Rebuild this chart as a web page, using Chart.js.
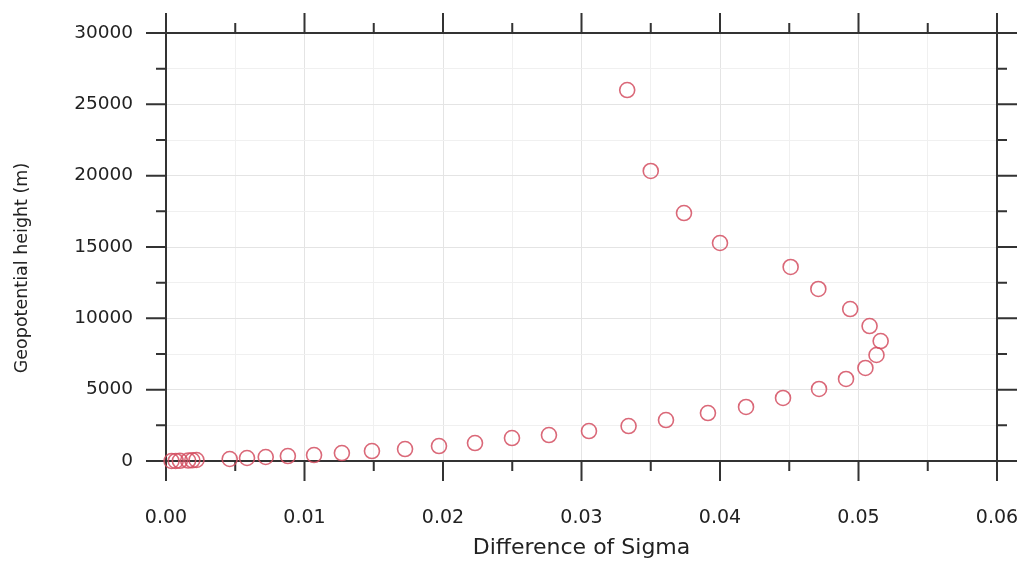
<!DOCTYPE html>
<html>
<head>
<meta charset="utf-8">
<script src="https://cdn.jsdelivr.net/npm/chart.js@4.4.1/dist/chart.umd.min.js"></script>
<style>
  html, body { margin: 0; padding: 0; background: #fff; }
  #wrap { width: 1021px; height: 563px; }
</style>
</head>
<body>
<div id="wrap"><canvas id="sigma"></canvas></div>
<script>
// sigma difference per level, top of the profile first
const sigmaDiff = [
    0.0333, 0.0350, 0.0374, 0.0400, 0.0451, 0.0471, 0.0494, 0.0508, 0.0516, 0.0513,
    0.0505, 0.0491, 0.04715, 0.04455, 0.04188, 0.03913, 0.0361, 0.0334, 0.03054, 0.02765,
    0.02498, 0.02231, 0.01971, 0.01726, 0.01487, 0.0127, 0.01069, 0.0088, 0.0072, 0.00585,
    0.0046, 0.0022, 0.0019, 0.0016, 0.0010, 0.0007, 0.0004
];
// geopotential height of each level (m)
const geoHeight = [
    26000, 20330, 17380, 15280, 13600, 12060, 10650, 9460, 8410, 7430,
    6520, 5750, 5050, 4420, 3790, 3360, 2870, 2450, 2100, 1820,
    1610, 1260, 1050, 840, 700, 560, 420, 350, 280, 210,
    140, 70, 50, 30, 15, 5, 0
];
const xTicks = [0, 0.01, 0.02, 0.03, 0.04, 0.05, 0.06];
const yTicks = [0, 5000, 10000, 15000, 20000, 25000, 30000];

const xTitle = 'Difference of Sigma';
const yTitle = 'Geopotential height (m)';

const FRAME = '#333333';
const MAJOR_LEN = 20;
const MINOR_LEN = 10;

const isMajor = (v, list) => list.some(t => Math.abs(t - v) < 1e-9);

// frame plus outward tick marks on all four sides, NCL style
const framePlugin = {
    id: 'frame',
    beforeDatasetsDraw(chart) {
        const { ctx, chartArea: a, scales: { x, y } } = chart;
        ctx.save();
        ctx.strokeStyle = FRAME;
        ctx.lineWidth = 2;
        ctx.lineCap = 'butt';
        ctx.strokeRect(a.left, a.top, a.right - a.left, a.bottom - a.top);

        ctx.beginPath();
        x.ticks.forEach(t => {
            const px = x.getPixelForValue(t.value);
            const len = isMajor(t.value, xTicks) ? MAJOR_LEN : MINOR_LEN;
            ctx.moveTo(px, a.bottom);
            ctx.lineTo(px, a.bottom + len);
            ctx.moveTo(px, a.top);
            ctx.lineTo(px, a.top - len);
        });
        y.ticks.forEach(t => {
            const py = y.getPixelForValue(t.value);
            const len = isMajor(t.value, yTicks) ? MAJOR_LEN : MINOR_LEN;
            ctx.moveTo(a.left, py);
            ctx.lineTo(a.left - len, py);
            ctx.moveTo(a.right, py);
            ctx.lineTo(a.right + len, py);
        });
        ctx.stroke();
        ctx.restore();
    },
    afterDraw(chart) {
        const { ctx, chartArea: a } = chart;
        ctx.save();
        ctx.fillStyle = '#222222';
        ctx.textAlign = 'center';
        ctx.textBaseline = 'middle';

        ctx.font = '22px "DejaVu Sans"';
        ctx.fillText(xTitle, (a.left + a.right) / 2, 548);

        ctx.translate(22, 268);
        ctx.rotate(-Math.PI / 2);
        ctx.font = '17.5px "DejaVu Sans"';
        ctx.fillText(yTitle, 0, 0);
        ctx.restore();
    }
};

const points = sigmaDiff.map((v, i) => ({ x: v, y: geoHeight[i] }));

new Chart(document.getElementById('sigma'), {
    type: 'scatter',
    data: {
        datasets: [{
            data: points,
            pointStyle: 'circle',
            pointRadius: 7.5,
            pointHoverRadius: 7.5,
            pointBorderWidth: 1.6,
            borderColor: 'rgba(212, 78, 96, 0.85)',
            backgroundColor: 'rgba(0, 0, 0, 0)',
            clip: false
        }]
    },
    options: {
        responsive: true,
        maintainAspectRatio: false,
        animation: false,
        events: [],
        layout: { padding: { top: 33, right: 24, left: 0, bottom: 0 } },
        plugins: {
            legend: { display: false },
            tooltip: { enabled: false }
        },
        scales: {
            x: {
                type: 'linear',
                min: 0,
                max: 0.06,
                afterFit(scale) {
                    scale.height = 102;
                    scale.paddingLeft = 0;
                    scale.paddingRight = 0;
                },
                border: { display: false },
                grid: {
                    drawTicks: false,
                    color: ctx => isMajor(ctx.tick.value, xTicks) ? '#e4e4e4' : '#f0f0f0',
                    lineWidth: 1
                },
                ticks: {
                    stepSize: 0.005,
                    padding: 46,
                    color: '#222222',
                    font: { family: '"DejaVu Sans"', size: 19 },
                    maxRotation: 0,
                    autoSkip: false,
                    callback: v => isMajor(v, xTicks) ? v.toFixed(2) : ''
                }
            },
            y: {
                type: 'linear',
                min: 0,
                max: 30000,
                afterFit(scale) {
                    scale.width = 166;
                    scale.paddingTop = 0;
                    scale.paddingBottom = 0;
                },
                border: { display: false },
                grid: {
                    drawTicks: false,
                    color: ctx => isMajor(ctx.tick.value, yTicks) ? '#e4e4e4' : '#f0f0f0',
                    lineWidth: 1
                },
                ticks: {
                    stepSize: 2500,
                    padding: 33,
                    color: '#222222',
                    font: { family: '"DejaVu Sans"', size: 18.5 },
                    autoSkip: false,
                    callback: v => isMajor(v, yTicks) ? String(v) : ''
                }
            }
        }
    },
    plugins: [framePlugin]
});
</script>
</body>
</html>
